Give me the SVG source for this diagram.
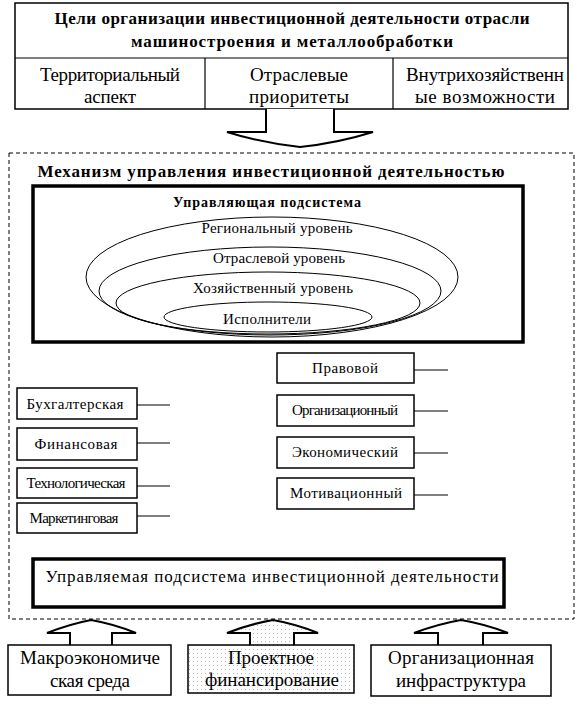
<svg xmlns="http://www.w3.org/2000/svg" width="583" height="707" viewBox="0 0 583 707" font-family="'Liberation Serif', 'Times New Roman', serif">
<defs>
<pattern id="dots" width="4" height="4" patternUnits="userSpaceOnUse">
<rect width="4" height="4" fill="#fff"/>
<rect x="1" y="1" width="1" height="1" fill="#b8b8b8"/>
</pattern>
<style>
text{font-family:'Liberation Serif','Times New Roman',serif;fill:#000;text-anchor:middle;font-weight:normal}
.b{font-weight:bold}
.box{fill:#fff;stroke:#000;stroke-width:1.5}
.thick{fill:#fff;stroke:#000;stroke-width:3.5}
.ln{stroke:#000;stroke-width:1.2;fill:none}
.el{fill:none;stroke:#000;stroke-width:1}
.arr{fill:#fff;stroke:#000;stroke-width:2;stroke-linejoin:miter}
</style>
</defs>
<rect width="583" height="707" fill="#fff"/>

<g id="goals">
<rect class="box" x="15" y="3" width="553" height="106" stroke-width="2"/>
<line class="ln" x1="15" y1="58" x2="568" y2="58" stroke-width="2"/>
<line class="ln" x1="205" y1="58" x2="205" y2="109" stroke-width="2"/>
<line class="ln" x1="393" y1="58" x2="393" y2="109" stroke-width="2"/>
<text class="b" x="292" y="24" font-size="17" textLength="475" lengthAdjust="spacing">Цели организации инвестиционной деятельности отрасли</text>
<text class="b" x="292" y="47" font-size="17" textLength="322" lengthAdjust="spacing">машиностроения и металлообработки</text>
<text x="110" y="81" font-size="19" textLength="140" lengthAdjust="spacing">Территориальный</text>
<text x="110" y="103" font-size="19" textLength="52" lengthAdjust="spacing">аспект</text>
<text x="299" y="81" font-size="19" textLength="98" lengthAdjust="spacing">Отраслевые</text>
<text x="299" y="103" font-size="19" textLength="100" lengthAdjust="spacing">приоритеты</text>
<text x="485" y="81" font-size="19" textLength="158" lengthAdjust="spacing">Внутрихозяйственн</text>
<text x="485" y="103" font-size="19" textLength="140" lengthAdjust="spacing">ые возможности</text>
</g>

<g id="connectors">
<path class="arr" d="M266,109 V132 H227 Q262,143 300,147 Q338,143 373,132 H334 V109"/>
<rect x="9" y="153" width="565" height="466" fill="none" stroke="#000" stroke-width="1" stroke-dasharray="4,3"/>
<line class="ln" x1="137" y1="405" x2="170" y2="405"/>
<line class="ln" x1="137" y1="443" x2="170" y2="443"/>
<line class="ln" x1="137" y1="486" x2="170" y2="486"/>
<line class="ln" x1="137" y1="516" x2="170" y2="516"/>
<line class="ln" x1="414" y1="370" x2="448" y2="370"/>
<line class="ln" x1="414" y1="411" x2="448" y2="411"/>
<line class="ln" x1="414" y1="453" x2="448" y2="453"/>
<line class="ln" x1="414" y1="495" x2="448" y2="495"/>
<path class="arr" d="M70,645 V633 H47 Q70,624 91,620 Q114,624 136,633 H112 V645"/>
<path class="arr" style="fill:url(#dots)" d="M250,645 V633 H227 Q250,624 273,620 Q296,624 318,633 H294 V645"/>
<path class="arr" d="M438,645 V633 H414 Q438,624 461,620 Q485,624 508,633 H483 V645"/>
</g>

<g id="mechanism">
<text class="b" x="271" y="177" font-size="17" textLength="467" lengthAdjust="spacing">Механизм управления инвестиционной деятельностью</text>
</g>

<g id="control">
<rect class="thick" x="33" y="186" width="490" height="156"/>
<text class="b" x="267" y="207" font-size="14" textLength="188" lengthAdjust="spacing">Управляющая подсистема</text>
<ellipse class="el" cx="272" cy="277" rx="186" ry="60"/>
<ellipse class="el" cx="270" cy="291" rx="171" ry="44"/>
<ellipse class="el" cx="268" cy="303" rx="152" ry="31"/>
<ellipse class="el" cx="268" cy="317" rx="104" ry="15"/>
<text x="277" y="233" font-size="15" textLength="151" lengthAdjust="spacing">Региональный уровень</text>
<text x="279" y="263" font-size="15" textLength="132" lengthAdjust="spacing">Отраслевой уровень</text>
<text x="273" y="293" font-size="15" textLength="160" lengthAdjust="spacing">Хозяйственный уровень</text>
<text x="267" y="324" font-size="15" textLength="88" lengthAdjust="spacing">Исполнители</text>
</g>

<g id="left-boxes">
<rect class="box" x="17" y="388" width="120" height="31"/>
<text x="75" y="409" font-size="15" textLength="97" lengthAdjust="spacing">Бухгалтерская</text>
<rect class="box" x="17" y="428" width="120" height="32"/>
<text x="76" y="449" font-size="15" textLength="83" lengthAdjust="spacing">Финансовая</text>
<rect class="box" x="17" y="468" width="120" height="30"/>
<text x="76" y="488" font-size="15" textLength="99" lengthAdjust="spacing">Технологическая</text>
<rect class="box" x="17" y="503" width="120" height="30"/>
<text x="74" y="523" font-size="15" textLength="89" lengthAdjust="spacing">Маркетинговая</text>
</g>

<g id="right-boxes">
<rect class="box" x="277" y="353" width="137" height="30"/>
<text x="345" y="373" font-size="15" textLength="66" lengthAdjust="spacing">Правовой</text>
<rect class="box" x="277" y="395" width="137" height="31"/>
<text x="345" y="415" font-size="15" textLength="106" lengthAdjust="spacing">Организационный</text>
<rect class="box" x="277" y="437" width="137" height="31"/>
<text x="345" y="457" font-size="15" textLength="106" lengthAdjust="spacing">Экономический</text>
<rect class="box" x="277" y="478" width="137" height="31"/>
<text x="346" y="498" font-size="15" textLength="112" lengthAdjust="spacing">Мотивационный</text>
</g>

<g id="managed">
<rect class="thick" x="33" y="559" width="471" height="48"/>
<text x="272" y="582" font-size="17" textLength="453" lengthAdjust="spacing">Управляемая подсистема инвестиционной деятельности</text>
</g>

<g id="macro">
<rect class="box" x="8" y="645" width="163" height="50" stroke-width="2"/>
<text x="90" y="664" font-size="19" textLength="140" lengthAdjust="spacing">Макроэкономиче</text>
<text x="90" y="687" font-size="19" textLength="80" lengthAdjust="spacing">ская среда</text>
</g>

<g id="project">
<rect class="box" x="188" y="645" width="166" height="48" stroke-width="2" style="fill:url(#dots)"/>
<text x="271" y="664" font-size="19" textLength="86" lengthAdjust="spacing">Проектное</text>
<text x="272" y="686" font-size="19" textLength="134" lengthAdjust="spacing">финансирование</text>
</g>

<g id="infra">
<rect class="box" x="371" y="645" width="180" height="51" stroke-width="2"/>
<text x="461" y="664" font-size="19" textLength="146" lengthAdjust="spacing">Организационная</text>
<text x="461" y="687" font-size="19" textLength="130" lengthAdjust="spacing">инфраструктура</text>
</g>
</svg>
